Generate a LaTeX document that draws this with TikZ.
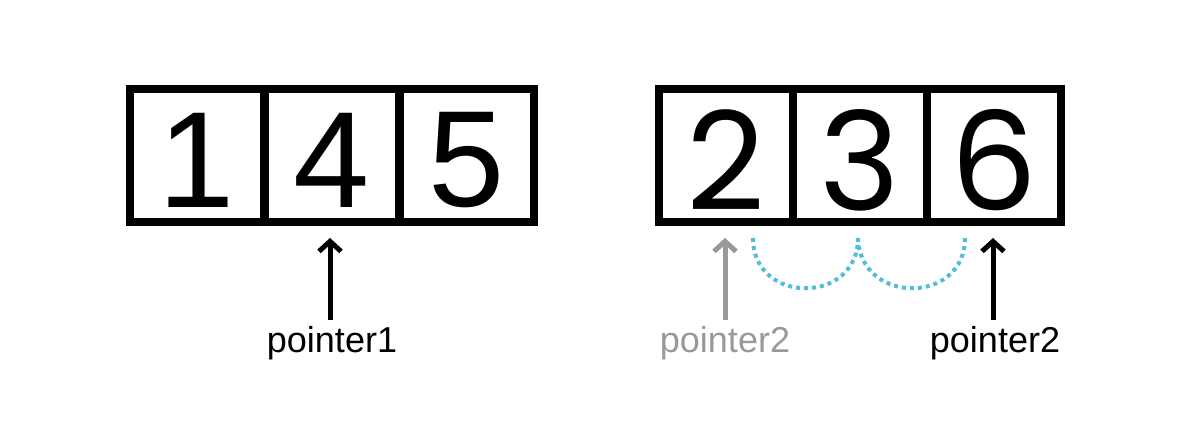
\documentclass[tikz,border=0pt]{standalone}
\usepackage{fontspec}
\setmainfont{Liberation Sans}
\newfontfamily\rightdigits{Poppins}
\usetikzlibrary{arrows.meta}
\definecolor{arcblue}{HTML}{55BBDD}
\definecolor{ghost}{HTML}{999999}
\begin{document}
\begin{tikzpicture}[x=1pt,y=-1pt,
  cell/.style={draw=black,line width=8pt,minimum width=134pt,minimum height=133pt,inner sep=0pt},
  digitL/.style={font=\fontsize{137}{137}\selectfont,inner sep=0pt},
  digitR/.style={font=\rightdigits\fontsize{137}{137}\selectfont,inner sep=0pt},
  lab/.style={font=\fontsize{36}{36}\selectfont,inner sep=0pt,anchor=base},
  ptr/.style={line width=5pt,-{Straight Barb[length=10pt,width=22pt,line width=5pt]}},
  hop/.style={arcblue,line width=4pt,dash pattern=on 4pt off 4pt}]
\useasboundingbox (0,0) rectangle (1192,434);
% left array
\node[cell] (a1) at (197,155.5) {};
\node[cell] (a2) at (332,155.5) {};
\node[cell] (a3) at (467,155.5) {};
\node[digitL] (d1) at ([yshift=-5pt]a1.center) {1};
\node[digitL] (d2) at ([yshift=-5pt]a2.center) {4};
\node[digitL] (d3) at ([yshift=-5pt]a3.center) {5};
% right array
\node[cell] (b1) at (726,155.5) {};
\node[cell] (b2) at (860,155.5) {};
\node[cell] (b3) at (994,155.5) {};
\node[digitR] (e1) at ([yshift=-5pt]b1.center) {2};
\node[digitR] (e2) at ([yshift=-5pt]b2.center) {3};
\node[digitR] (e3) at ([yshift=-5pt]b3.center) {6};
% labels
\node[lab] (p1) at (332,352) {pointer1};
\node[lab,ghost] (p2g) at (725,352) {pointer2};
\node[lab] (p2) at (995,352) {pointer2};
% arrows
\coordinate (t1) at (330,238);
\coordinate (s1) at (330,320);
\coordinate (t2) at (725,238);
\coordinate (s2) at (725,320);
\coordinate (t3) at (993,238);
\coordinate (s3) at (993,320);
\draw[ptr] (s1) -- (t1);
\draw[ptr,ghost] (s2) -- (t2);
\draw[ptr] (s3) -- (t3);
% hops
\coordinate (h1) at (753,238);
\coordinate (h2) at (858,238);
\coordinate (h3) at (965,238);
\draw[hop] (h1) .. controls (753,305) and (858,305) .. (h2);
\draw[hop] (h2) .. controls (860,305) and (965,305) .. (h3);
\end{tikzpicture}
\end{document}
